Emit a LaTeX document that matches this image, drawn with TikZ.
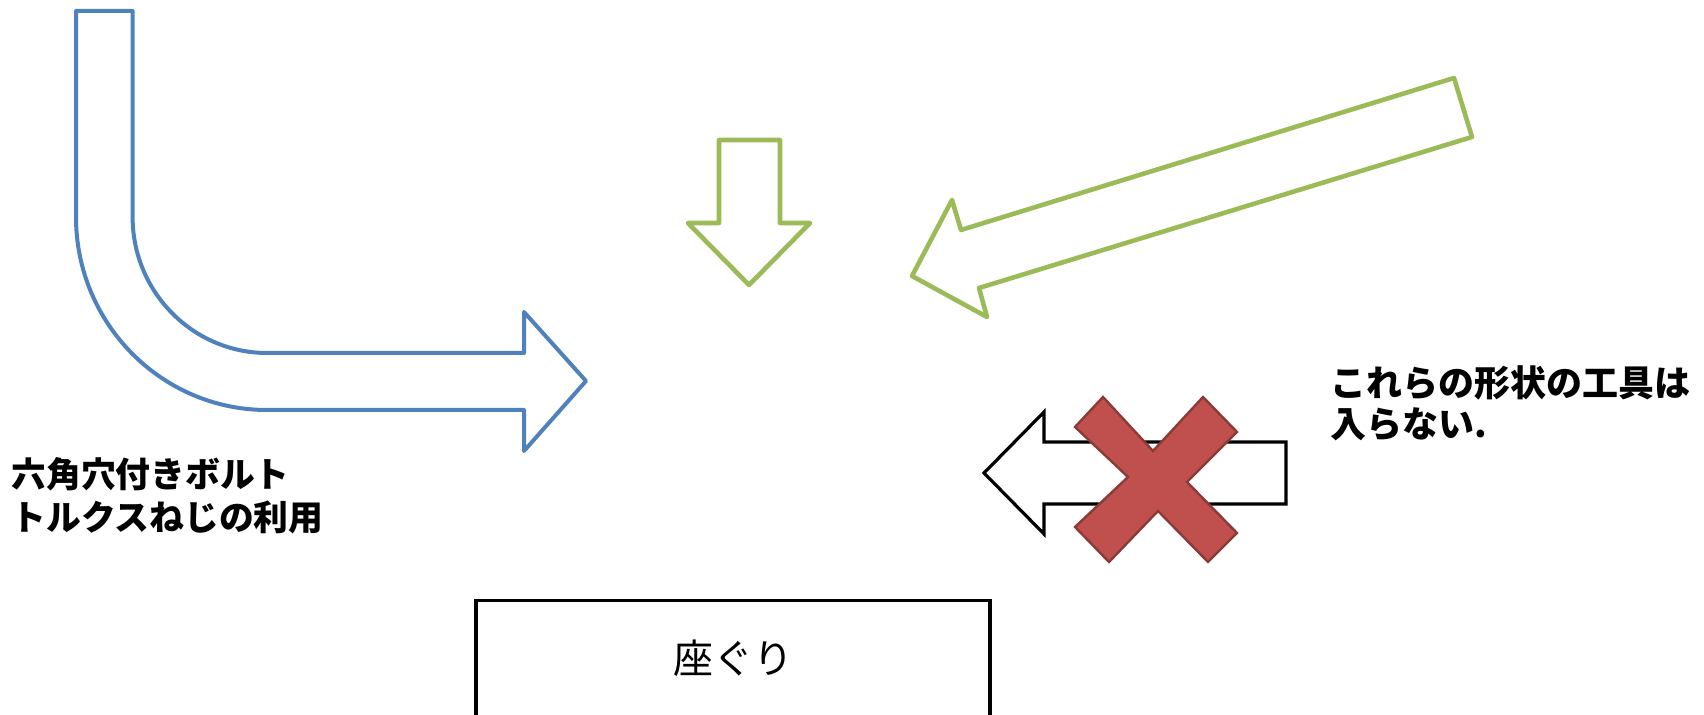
\documentclass[tikz,border=0pt]{standalone}
\usepackage{fontspec}
\newfontfamily\jp{Noto Sans CJK JP}
\definecolor{oblue}{HTML}{4F81BD}
\definecolor{ogreen}{HTML}{9BBB59}
\definecolor{ored}{HTML}{C0504D}
\definecolor{oredb}{HTML}{8C3A38}
\begin{document}
\begin{tikzpicture}[x=0.5pt,y=-0.5pt,
  bluearrow/.style={draw=oblue,line width=2pt,line join=round},
  greenarrow/.style={draw=ogreen,line width=2.3pt,line join=round},
  blackarrow/.style={draw=black,line width=1.6pt},
  redx/.style={fill=ored,draw=oredb,line width=1.2pt},
  boldtxt/.style={font=\jp\bfseries\fontsize{17.4}{20}\selectfont,inner sep=0pt,anchor=base west},
  boldtxtr/.style={font=\jp\bfseries\fontsize{18}{20}\selectfont,inner sep=0pt,anchor=base west},
  boxstyle/.style={draw=black,line width=1.6pt,minimum width=257pt,minimum height=66pt,inner sep=0pt},
  boxtxt/.style={font=\jp\fontsize{20}{22}\selectfont,inner sep=0pt}]
\useasboundingbox (0,0) rectangle (1704,715);
\clip (0,0) rectangle (1704,715);
% blue bent arrow
\draw[bluearrow] (76,11) -- (132.6,11) -- (132.6,217)
  .. controls (132.6,292) and (193,353) .. (267,353)
  -- (524,353) -- (524,312) -- (586,381) -- (524,451) -- (524,410) -- (267,410)
  .. controls (161.6,410) and (76,323.5) .. (76,217) -- cycle;
% green down arrow
\draw[greenarrow] (719,140) -- (780,140) -- (780,223) -- (810,223) -- (749,285)
  -- (688,223) -- (719,223) -- cycle;
% green diagonal arrow
\draw[greenarrow] (1454,78) -- (1472,137) -- (979,288) -- (987,317) -- (912,276)
  -- (952,200) -- (961,230) -- cycle;
% black left arrow
\draw[blackarrow] (1286,442) -- (1286,504) -- (1044,504) -- (1044,534) -- (984,473)
  -- (1044,412) -- (1044,442) -- cycle;
% red X
\draw[redx] (1103,397) -- (1153,451) -- (1203,397) -- (1237,432) -- (1187,482)
  -- (1237,533) -- (1208,562) -- (1158,511) -- (1109,562) -- (1075,527)
  -- (1128,477) -- (1075,427) -- cycle;
% texts
\node[boldtxtr] (r1) at (1330,397) {これらの形状の工具は};
\node[boldtxtr] (r2) at (1330,438) {入らない.};
\node[boldtxt] (l1) at (11,488) {六角穴付きボルト};
\node[boldtxt] (l2) at (11,531) {トルクスねじの利用};
% box
\node[boxstyle,anchor=north] (box) at (733,599) {};
\node[boxtxt] (boxt) at (733,658) {座ぐり};
\end{tikzpicture}
\end{document}
